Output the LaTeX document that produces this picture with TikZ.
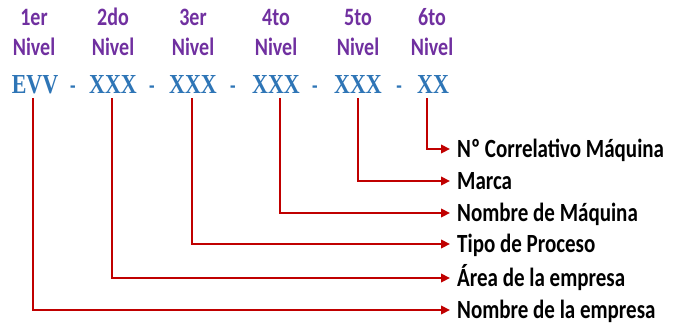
\documentclass[tikz,border=0pt]{standalone}
\usepackage{fontspec}
\setmainfont{Carlito}
\newfontfamily\codefont{Liberation Serif}
\usetikzlibrary{arrows.meta}
\definecolor{nivelpurple}{HTML}{7030A0}
\definecolor{codeblue}{HTML}{2E75B6}
\definecolor{linkred}{HTML}{C00000}
\begin{document}
\begin{tikzpicture}[x=1bp,y=-1bp,
  tall/.style={yscale=1.25, transform shape},
  nivel/.style={tall, text=nivelpurple, font=\bfseries\fontsize{20bp}{24bp}\selectfont, inner sep=0pt, anchor=base},
  code/.style={tall, text=codeblue, font=\codefont\bfseries\fontsize{22bp}{22bp}\selectfont, inner sep=0pt, anchor=base},
  sepmark/.style={tall, text=codeblue, font=\bfseries\fontsize{18bp}{18bp}\selectfont, inner sep=0pt, anchor=base},
  item/.style={tall, anchor=west, inner xsep=7bp, inner ysep=0pt, text height=13.5bp, text depth=0pt,
    font=\bfseries\fontsize{21bp}{21bp}\selectfont, text=black},
  link/.style={draw=linkred, line width=2.3bp, -{Triangle[length=9bp,width=8.5bp]}}]
\useasboundingbox (0,0) rectangle (675,322);

% level headings
\foreach \nm/\x/\t in {1/34/1er, 2/113/2do, 3/193/3er, 4/276/4to, 5/358/5to, 6/432/6to}{
  \node[nivel] (o\nm) at (\x,25) {\t};
  \node[nivel] (n\nm) at (\x,55) {Nivel};
}

% code string
\node[code] (c1) at (35,93) {EVV};
\node[sepmark] (d1) at (73,93) {-};
\node[code] (c2) at (113,93) {XXX};
\node[sepmark] (d2) at (152,93) {-};
\node[code] (c3) at (193,93) {XXX};
\node[sepmark] (d3) at (233,93) {-};
\node[code] (c4) at (276,93) {XXX};
\node[sepmark] (d4) at (315,93) {-};
\node[code] (c5) at (358,93) {XXX};
\node[sepmark] (d5) at (399,93) {-};
\node[code] (c6) at (433,93) {XX};

% descriptions
\node[item] (i6) at (450,149) {Nº Correlativo Máquina};
\node[item] (i5) at (450,181) {Marca};
\node[item] (i4) at (450,213) {Nombre de Máquina};
\node[item] (i3) at (450,244) {Tipo de Proceso};
\node[item] (i2) at (450,278) {Área de la empresa};
\node[item] (i1) at (450,310) {Nombre de la empresa};

% connector start points under each segment
\coordinate (s1) at (33,98);
\coordinate (s2) at (112,98);
\coordinate (s3) at (192,98);
\coordinate (s4) at (280,98);
\coordinate (s5) at (358,98);
\coordinate (s6) at (427,98);

\foreach \k in {1,...,6}
  \draw[link] (s\k) |- (i\k.west);
\end{tikzpicture}
\end{document}
